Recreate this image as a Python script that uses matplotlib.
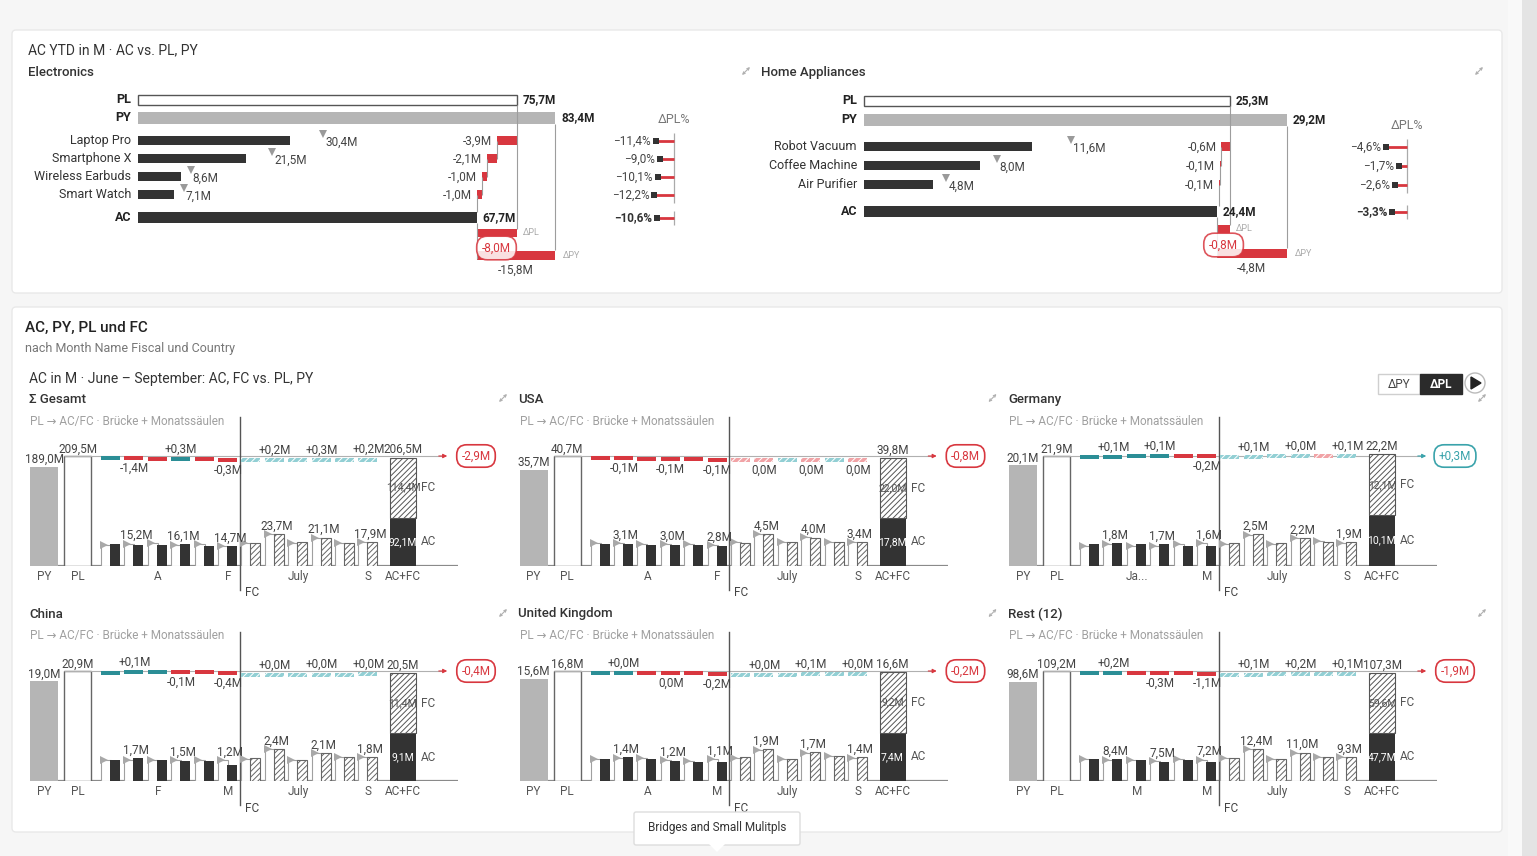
import numpy as np
import matplotlib.pyplot as plt
from matplotlib.patches import FancyBboxPatch, Circle, Polygon, Rectangle

plt.rcParams['font.family'] = ['Roboto', 'DejaVu Sans']
plt.rcParams['hatch.linewidth'] = 0.7

W, H = 1537, 856

RED = '#d8373f'
TEAL = '#2b8e96'
PALE_TEAL = '#92cfd4'
PALE_RED = '#f1a3a6'
DARK = '#333333'
GREY_BAR = '#b5b5b5'
TXT = '#444444'

# ---------- top card: AC YTD by product ----------
elec_names = ['Laptop Pro', 'Smartphone X', 'Wireless Earbuds', 'Smart Watch']
elec_ac = [30.4, 21.5, 8.6, 7.1]
elec_py = [37.0, 26.8, 10.5, 9.1]
elec_dpl = [-3.9, -2.1, -1.0, -1.0]
elec_pct = [-11.4, -9.0, -10.1, -12.2]
elec_totals = [75.7, 83.4, 67.7]      # PL, PY, AC
elec_diff = [-8.0, -15.8, -10.6]      # dPL, dPY, dPL%

home_names = ['Robot Vacuum', 'Coffee Machine', 'Air Purifier']
home_ac = [11.6, 8.0, 4.8]
home_py = [14.3, 9.2, 5.7]
home_dpl = [-0.6, -0.1, -0.1]
home_pct = [-4.6, -1.7, -2.6]
home_totals = [25.3, 29.2, 24.4]
home_diff = [-0.8, -4.8, -3.3]

# ---------- bottom card: small multiples ----------
sm_names = ['Σ Gesamt', 'USA', 'Germany', 'China', 'United Kingdom', 'Rest (12)']
sm_py = [189.0, 35.7, 20.1, 19.0, 15.6, 98.6]
sm_pl = [209.5, 40.7, 21.9, 20.9, 16.8, 109.2]
sm_delta = [-2.9, -0.8, 0.3, -0.4, -0.2, -1.9]
# 6 AC months followed by 6 FC months
sm_month = [
    [16.0, 15.2, 15.6, 16.1, 14.5, 14.7, 17.0, 23.7, 17.5, 21.1, 17.2, 17.9],
    [3.1, 3.1, 2.9, 3.0, 2.9, 2.8, 3.3, 4.5, 3.4, 4.0, 3.4, 3.4],
    [1.7, 1.8, 1.7, 1.7, 1.6, 1.6, 1.8, 2.5, 1.8, 2.2, 1.9, 1.9],
    [1.6, 1.7, 1.6, 1.5, 1.5, 1.2, 1.7, 2.4, 1.6, 2.1, 1.8, 1.8],
    [1.3, 1.4, 1.3, 1.2, 1.1, 1.1, 1.4, 1.9, 1.3, 1.7, 1.5, 1.4],
    [8.5, 8.4, 8.0, 7.5, 8.1, 7.2, 9.0, 12.4, 8.6, 11.0, 9.3, 9.3],
]
sm_var = [
    [0.1, -1.4, -1.2, 0.3, -1.7, -0.3, 0.2, 0.2, 0.2, 0.3, 0.2, 0.2],
    [-0.1, -0.1, -0.2, -0.1, -0.2, -0.1, -0.02, -0.04, 0.03, -0.03, 0.04, -0.02],
    [0.1, 0.1, 0.1, 0.1, -0.1, -0.2, 0.05, 0.1, 0.05, 0.03, -0.05, 0.1],
    [0.05, 0.1, 0.05, -0.1, -0.1, -0.4, 0.02, 0.03, 0.02, 0.02, 0.02, 0.03],
    [0.02, 0.03, -0.05, -0.04, -0.1, -0.2, 0.02, 0.03, 0.02, 0.06, 0.02, 0.03],
    [0.1, 0.2, -0.3, -0.3, -0.3, -1.1, 0.1, 0.1, 0.1, 0.2, 0.1, 0.1],
]
sm_tick3 = ['A', 'A', 'Ja...', 'F', 'A', 'M']
sm_tick6 = ['F', 'F', 'M', 'M', 'M', 'M']


def fmt(v, sign=False):
    r = round(v, 1)
    s = '{:.1f}'.format(abs(r)).replace('.', ',') + 'M'
    if sign:
        if r > 0 or (r == 0 and v >= 0):
            return '+' + s
        if r < 0:
            return '-' + s
        return s
    return ('-' if r < 0 else '') + s


def fmt_pct(v):
    return '\u2212' + '{:.1f}'.format(abs(v)).replace('.', ',') + '%'


fig = plt.figure(figsize=(W / 100, H / 100), dpi=100)
fig.patch.set_facecolor('#f6f6f6')


def px_axes(x0, y0, x1, y1):
    a = fig.add_axes([x0 / W, 1 - y1 / H, (x1 - x0) / W, (y1 - y0) / H])
    a.set_facecolor('none')
    return a


bg = px_axes(0, 0, W, H)
bg.set_xlim(0, W)
bg.set_ylim(H, 0)
bg.axis('off')


def expand_icon(x, y):
    # small diagonal double arrow (no installed font has the glyph)
    bg.annotate('', xy=(x + 4, y - 4), xytext=(x - 4, y + 4),
                arrowprops=dict(arrowstyle='<->', color='#b0b0b0', lw=0.8, mutation_scale=4,
                                shrinkA=0, shrinkB=0))


# page pieces
bg.add_patch(Rectangle((1522, 0), 15, H, color='#e4e4e4', lw=0))
bg.add_patch(Rectangle((1508, 0), 14, H, color='#f9f9f9', lw=0))
for (cx, cy, cw, ch) in [(12, 30, 1490, 263), (12, 307, 1490, 525)]:
    bg.add_patch(FancyBboxPatch((cx, cy), cw, ch, boxstyle='round,pad=0,rounding_size=4',
                                fc='white', ec='#e9e9e9', lw=1))

bg.text(28, 50, 'AC YTD in M · AC vs. PL, PY', fontsize=10, color='#333', va='center')
bg.text(28, 72, 'Electronics', fontsize=9.5, color='#333', va='center', fontweight='medium')
expand_icon(746, 71)
bg.text(761, 72, 'Home Appliances', fontsize=9.5, color='#333', va='center', fontweight='medium')
expand_icon(1479, 71)

bg.text(25, 328, 'AC, PY, PL und FC', fontsize=11, color='#222', va='center', fontweight='medium')
bg.text(25, 348, 'nach Month Name Fiscal und Country', fontsize=9, color='#777', va='center')
bg.text(29, 379, 'AC in M · June – September: AC, FC vs. PL, PY', fontsize=10, color='#333', va='center')

# toggle buttons
bg.add_patch(Rectangle((1378, 374), 42, 20, fc='white', ec='#cfcfcf', lw=1))
bg.add_patch(Rectangle((1420, 374), 42, 20, fc='#2b2b2b', ec='#2b2b2b', lw=1))
bg.text(1399, 384, 'ΔPY', fontsize=8.5, color='#444', ha='center', va='center')
bg.text(1441, 384, 'ΔPL', fontsize=8.5, color='white', ha='center', va='center', fontweight='bold')
bg.add_patch(Circle((1475, 383), 10, fc='white', ec='#bbb', lw=1))
bg.add_patch(Polygon([(1471, 377), (1471, 389), (1481, 383)], color='#222'))


def ytd_block(x_zero, scale, x_left, x_right, rows, names, ac, py, dpl, pct,
              totals, diffs, pct_x, pct_scale):
    pl_t, py_t, ac_t = totals
    dpl_t, dpy_t, pct_t = diffs
    y_pl, y_py, y_items, y_ac, y_dpl, y_dpy = rows
    ax = px_axes(x_left, 85, x_right, 285)
    ax.set_xlim((x_left - x_zero) / scale, (x_right - x_zero) / scale)
    ax.set_ylim(285, 85)
    ax.axis('off')
    m = 1.0 / scale

    ax.barh(y_pl, pl_t, height=10, color='white', edgecolor='#555', lw=1)
    ax.barh(y_py, py_t, height=12, color=GREY_BAR, lw=0)
    ax.barh(y_items, ac, height=9, color=DARK, lw=0)
    ax.barh(y_ac, ac_t, height=11, color=DARK, lw=0)

    for lab, yy in zip(['PL', 'PY', 'AC'], [y_pl, y_py, y_ac]):
        ax.text(-7 * m, yy, lab, ha='right', va='center', fontsize=9, color='#222', fontweight='bold')
    for lab, yy in zip(names, y_items):
        ax.text(-7 * m, yy, lab, ha='right', va='center', fontsize=9, color='#333')
    for val, yy in zip([pl_t, py_t, ac_t], [y_pl, y_py, y_ac]):
        ax.text(val + 6 * m, yy, fmt(val), ha='left', va='center', fontsize=8.5, color='#222',
                fontweight='bold')

    for a, p, yy in zip(ac, py, y_items):
        ax.plot(p, yy - 7, marker='v', color='#9a9a9a', ms=5.5, mew=0)
        ax.text(p + 2 * m, yy + 1, fmt(a), ha='left', va='center', fontsize=8.5, color='#444')

    # variance waterfall from PL down to AC
    cum = pl_t
    steps = []
    for yy, d in zip(y_items, dpl):
        ax.barh(yy, d, left=cum, height=9, color=RED, lw=0)
        ax.text(cum + d - 5 * m, yy, fmt(d), ha='right', va='center', fontsize=8.5, color='#444')
        cum += d
        steps.append(cum)
    lc = '#9d9d9d'
    ax.vlines(pl_t, y_pl + 5, y_dpl - 4, color=lc, lw=0.8)
    ax.vlines(py_t, y_py + 6, y_dpy - 4.5, color=lc, lw=0.8)
    for i in range(len(steps) - 1):
        ax.vlines(steps[i], y_items[i], y_items[i + 1], color=lc, lw=0.8)
    ax.vlines(steps[-1], y_items[-1], y_ac - 5.5, color=lc, lw=0.8)
    ax.vlines(ac_t, y_ac + 5.5, y_dpy + 4.5, color=lc, lw=0.8)

    ax.barh(y_dpl, pl_t - ac_t, left=ac_t, height=8, color=RED, lw=0)
    ax.barh(y_dpy, py_t - ac_t, left=ac_t, height=9, color=RED, lw=0)
    ax.text(pl_t + 6 * m, y_dpl, 'ΔPL', ha='left', va='center', fontsize=6.5, color='#aaa')
    ax.text(py_t + 8 * m, y_dpy, 'ΔPY', ha='left', va='center', fontsize=6.5, color='#aaa')
    ax.text((ac_t + pl_t) / 2, (y_dpl + y_dpy) / 2 + 4, fmt(dpl_t), ha='center', va='center',
            fontsize=8.5, color=RED, zorder=6,
            bbox=dict(boxstyle='round,pad=0.45,rounding_size=0.9', fc='white', ec=RED, lw=1.2, alpha=0.85))
    ax.text((ac_t + py_t) / 2, y_dpy + 15, fmt(dpy_t), ha='center', va='center', fontsize=8.5, color='#444')

    # dPL% column
    pax = px_axes(pct_x - 90, 85, pct_x + 10, 285)
    pax.set_xlim(-90 / pct_scale, 10 / pct_scale)
    pax.set_ylim(285, 85)
    pax.axis('off')
    pax.text(0, y_items[0] - 21, 'ΔPL%', ha='center', va='center', fontsize=9, color='#777')
    pax.vlines(0, y_items[0] - 8, y_items[-1] + 8, color='#aaa', lw=0.9)
    pax.vlines(0, y_ac - 7, y_ac + 7, color='#aaa', lw=0.9)
    for p, yy in zip(pct, y_items):
        pax.hlines(yy, p, 0, color=RED, lw=2)
        pax.plot(p, yy, marker='s', color=DARK, ms=4.5, mew=0)
        pax.text(p - 5 / pct_scale, yy, fmt_pct(p), ha='right', va='center', fontsize=8.5, color='#444')
    pax.hlines(y_ac, pct_t, 0, color=RED, lw=2)
    pax.plot(pct_t, y_ac, marker='s', color=DARK, ms=4.5, mew=0)
    pax.text(pct_t - 5 / pct_scale, y_ac, fmt_pct(pct_t), ha='right', va='center', fontsize=8.5,
             color='#333', fontweight='bold')


ytd_block(138, 5.0, 20, 720, (100, 118, [141, 159, 177, 195], 218, 233, 255),
          elec_names, elec_ac, elec_py, elec_dpl, elec_pct, elec_totals, elec_diff, 674, 1.6)
ytd_block(864, 14.47, 740, 1360, (101, 120, [147, 166, 185], 212, 229, 253),
          home_names, home_ac, home_py, home_dpl, home_pct, home_totals, home_diff, 1407, 4.5)

# ---------- small multiples ----------
PITCH = 23.4
FS = 8.5


def slot(i):
    return 81 + PITCH * i


for k in range(6):
    col, row = k % 3, k // 3
    x0 = 30 + col * 489.5
    yb = 566 + row * 215
    pl, py = sm_pl[k], sm_py[k]
    months = sm_month[k]
    var = sm_var[k]
    ac_sum = sum(months[:6])
    fc_sum = sum(months[6:])

    bg.text(x0 - 1, yb - 167, sm_names[k], fontsize=9.5, color='#333', va='center', fontweight='medium')
    bg.text(x0, yb - 145, 'PL → AC/FC · Brücke + Monatssäulen', fontsize=8.5, color='#a0a0a0', va='center')
    expand_icon(x0 + 473, yb - 168)
    bg.text(x0 + 222, yb + 27, 'FC', fontsize=FS, color='#444', va='center', ha='center')

    ax = px_axes(x0 - 2, yb - 150, x0 + 478, yb)
    ax.set_xlim(-2, 478)
    ymax = pl * 150 / 110
    ax.set_ylim(0, ymax)
    for s in ax.spines.values():
        s.set_visible(False)
    ax.set_yticks([])
    ax.set_xticks([14, 47.5, slot(2), slot(5), slot(8), slot(11), 373])
    ax.set_xticklabels(['PY', 'PL', sm_tick3[k], sm_tick6[k], 'July', 'S', 'AC+FC'])
    ax.tick_params(axis='x', length=0, pad=3, labelsize=FS, labelcolor='#555')

    ax.hlines(0, 0, 428, color='#8a8a8a', lw=1.6, zorder=1)
    ax.axvline(slot(5.5), ymin=-24 / 150, ymax=149 / 150, color='#555', lw=1, clip_on=False)

    # PY / PL totals
    ax.bar(14, py, width=28, color=GREY_BAR, lw=0)
    ax.bar(47.5, pl, width=27, facecolor='white', edgecolor='#666', lw=1)
    ax.annotate(fmt(py), (14, py), xytext=(0, 0.5), textcoords='offset points', ha='center',
                va='bottom', fontsize=FS, color=TXT)
    ax.annotate(fmt(pl), (47.5, pl), xytext=(0, 0.5), textcoords='offset points', ha='center',
                va='bottom', fontsize=FS, color=TXT)

    # PL reference line, arrow and delta bubble
    ax.hlines(pl, 34, 412, color='#b0b0b0', lw=0.8, zorder=1)
    dcol = RED if sm_delta[k] < 0 else '#3aa3ab'
    ax.annotate('', xy=(420, pl), xytext=(406, pl),
                arrowprops=dict(arrowstyle='-|>', color=dcol, lw=0.8, mutation_scale=6))
    ax.text(446, pl, fmt(sm_delta[k], sign=True), ha='center', va='center', fontsize=FS, color=dcol,
            bbox=dict(boxstyle='round,pad=0.4,rounding_size=0.85', fc='white', ec=dcol, lw=1.2))

    # bridge segments at PL level
    th = 4 * ymax / 150
    cum = pl
    for i, v in enumerate(var):
        s = slot(i)
        new = cum + v
        hi = max(cum, new)
        h = max(abs(v), th)
        if i < 6:
            fc = TEAL if v >= 0 else RED
            ax.bar(s - 0.5, h, bottom=hi - h, width=19, color=fc, lw=0, zorder=3)
        else:
            fc = PALE_TEAL if v >= 0 else PALE_RED
            ax.bar(s - 0.5, h, bottom=hi - h, width=19, facecolor=fc, edgecolor='white',
                   hatch='/////', lw=0, zorder=3)
        if i % 2 == 1:
            if v >= 0:
                ax.annotate(fmt(v, sign=True), (s, hi), xytext=(0, 1), textcoords='offset points',
                            ha='center', va='bottom', fontsize=FS, color=TXT)
            else:
                ax.annotate(fmt(v, sign=True), (s, hi - h), xytext=(0, -1), textcoords='offset points',
                            ha='center', va='top', fontsize=FS, color=TXT)
        cum = new

    # AC + FC stacked total
    ax.bar(373, ac_sum, width=26, color=DARK, lw=0)
    ax.bar(373, fc_sum, bottom=ac_sum, width=26, facecolor='white', edgecolor='#555',
           hatch='//////', lw=0.8)
    ax.annotate(fmt(ac_sum + fc_sum), (373, ac_sum + fc_sum), xytext=(0, 1), textcoords='offset points',
                ha='center', va='bottom', fontsize=FS, color=TXT)
    ax.text(373, ac_sum + fc_sum / 2, fmt(fc_sum), ha='center', va='center', fontsize=7.5, color='#555')
    ax.text(391, ac_sum + fc_sum / 2, 'FC', ha='left', va='center', fontsize=FS, color='#555')
    ax.text(373, ac_sum / 2, fmt(ac_sum), ha='center', va='center', fontsize=7.5, color='white')
    ax.text(391, ac_sum / 2, 'AC', ha='left', va='center', fontsize=FS, color='#555')

    # monthly columns on their own scale
    tw = ax.twinx()
    tw.set_ylim(0, max(months) * 150 / 32)
    tw.axis('off')
    for i, v in enumerate(months):
        s = slot(i)
        plm = v - var[i]
        tw.bar(s - 5, plm, width=10, facecolor='white', edgecolor='#a0a0a0', lw=0.8)
        if i < 6:
            tw.bar(s + 4, v, width=10, color=DARK, lw=0)
        else:
            tw.bar(s + 4, v, width=10, facecolor='white', edgecolor='#666', hatch='//////', lw=0.8)
        tw.plot(s - 7, plm, marker='>', ms=5.5, color='#a8a8a8', mew=0)
        if i % 2 == 1:
            tw.annotate(fmt(v), (s + 2, max(v, plm)), xytext=(0, 1), textcoords='offset points',
                        ha='center', va='bottom', fontsize=FS, color=TXT)

# tooltip on top of everything
ov = px_axes(0, 0, W, H)
ov.set_xlim(0, W)
ov.set_ylim(H, 0)
ov.axis('off')
ov.add_patch(FancyBboxPatch((634, 812), 166, 33, boxstyle='round,pad=0,rounding_size=2',
                            fc='white', ec='#dddddd', lw=1))
ov.add_patch(Polygon([(709, 844), (725, 844), (717, 852)], fc='white', ec='none'))
ov.text(717, 828, 'Bridges and Small Mulitpls', fontsize=8.5, color='#333', ha='center', va='center')

fig.savefig('out.png', dpi=100, facecolor=fig.get_facecolor())
